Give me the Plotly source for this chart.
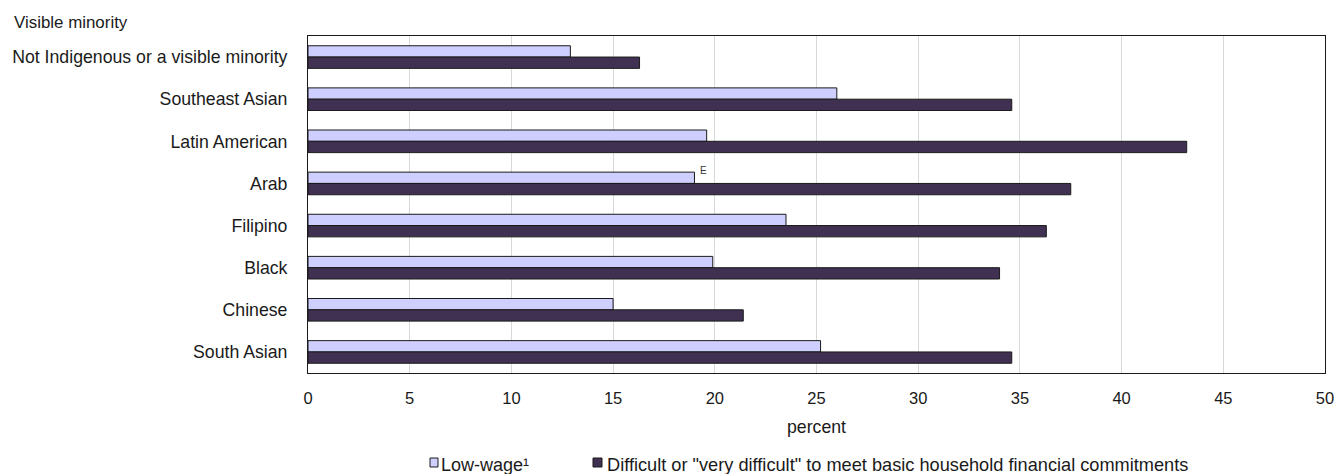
import plotly.graph_objects as go

categories = [
    "Not Indigenous or a visible minority",
    "Southeast Asian",
    "Latin American",
    "Arab",
    "Filipino",
    "Black",
    "Chinese",
    "South Asian",
]
low_wage = [12.9, 26.0, 19.6, 19.0, 23.5, 19.9, 15.0, 25.2]
difficult = [16.3, 34.6, 43.2, 37.5, 36.3, 34.0, 21.4, 34.6]
series_names = [
    "Low-wage¹",
    'Difficult or "very difficult" to meet basic household financial commitments',
]
x_ticks = [0, 5, 10, 15, 20, 25, 30, 35, 40, 45, 50]

FONT = "Liberation Sans Narrow, Arial Narrow, Liberation Sans, Arial, sans-serif"
W, H = 1335, 474
L, R, T = 308, 10, 36
B = H - 373
PW = W - L - R
PH = H - T - B

c_low = "#CFCFFF"
c_dif = "#403152"
edge = "#1a1a1a"

fig = go.Figure()
fig.add_trace(go.Bar(y=categories, x=low_wage, orientation="h", name=series_names[0],
                     marker=dict(color=c_low, line=dict(color=edge, width=1))))
fig.add_trace(go.Bar(y=categories, x=difficult, orientation="h", name=series_names[1],
                     marker=dict(color=c_dif, line=dict(color=edge, width=1))))


def px_x(p):
    return (p - L) / PW


def px_y(p):
    return (H - B - p) / PH


annotations = [
    dict(text="Visible minority", xref="paper", yref="paper", x=px_x(12), y=px_y(23),
         xanchor="left", yanchor="middle", showarrow=False,
         font=dict(family=FONT, size=16.9, color="#1a1a1a")),
    dict(text="E", xref="x", yref="y", x=low_wage[3], y=categories[3],
         xanchor="left", yanchor="middle", xshift=4, yshift=13, showarrow=False,
         font=dict(family=FONT, size=10, color="#333333")),
    dict(text=series_names[0], xref="paper", yref="paper", x=px_x(439), y=px_y(465),
         xanchor="left", yanchor="middle", showarrow=False,
         font=dict(family=FONT, size=18, color="#1a1a1a")),
    dict(text=series_names[1], xref="paper", yref="paper", x=px_x(605), y=px_y(465),
         xanchor="left", yanchor="middle", showarrow=False,
         font=dict(family=FONT, size=18.2, color="#1a1a1a")),
]

shapes = [
    dict(type="rect", xref="paper", yref="paper", x0=px_x(430), x1=px_x(438),
         y0=px_y(467), y1=px_y(458), fillcolor=c_low, line=dict(color=edge, width=1)),
    dict(type="rect", xref="paper", yref="paper", x0=px_x(593), x1=px_x(602),
         y0=px_y(467), y1=px_y(458), fillcolor=c_dif, line=dict(color=edge, width=1)),
]

fig.update_layout(
    width=W, height=H,
    margin=dict(l=L, r=R, t=T, b=B, autoexpand=False),
    paper_bgcolor="white", plot_bgcolor="white",
    barmode="group", bargap=0.463, bargroupgap=0,
    showlegend=False,
    font=dict(family=FONT, size=17, color="#1a1a1a"),
    annotations=annotations,
    shapes=shapes,
    xaxis=dict(range=[0, 50], tickvals=x_ticks, showgrid=True, gridcolor="#d9d9d9",
               gridwidth=1, showline=True, linecolor="#1a1a1a", linewidth=1, mirror=True,
               zeroline=False, ticks="", ticklabelstandoff=10, automargin=False,
               tickfont=dict(family=FONT, size=16.5),
               title=dict(text="percent", standoff=14, font=dict(family=FONT, size=17.7))),
    yaxis=dict(autorange="reversed", showline=True, linecolor="#1a1a1a", linewidth=1,
               mirror=True, showgrid=False, ticks="", ticklabelstandoff=16,
               automargin=False, tickfont=dict(family=FONT, size=17.7)),
)

fig.write_html(
    "out.html",
    config={"displayModeBar": False},
    post_script="document.body.style.margin='0';document.body.style.overflow='hidden';",
)
